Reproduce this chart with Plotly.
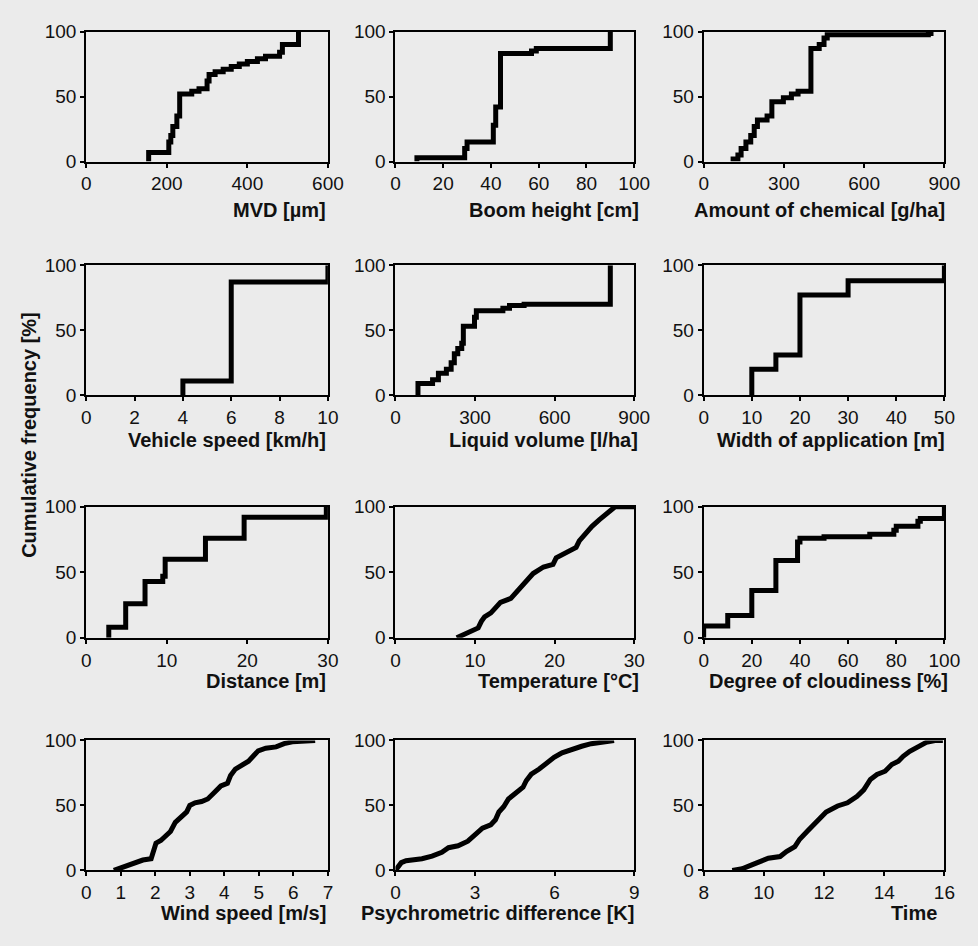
import plotly.graph_objects as go
from plotly.subplots import make_subplots

# ---- data (step positions and cumulative frequency [%]) ----
mvd_x = [155, 155, 205, 210, 215, 225, 232, 262, 280, 300, 305, 320, 340, 360, 380, 400, 425, 445, 480, 487, 527]
mvd_y = [0, 7, 15, 20, 27, 35, 52, 54, 56, 62, 67, 69, 71, 73, 75, 77, 79, 81, 84, 90, 100]

boom_x = [9, 9, 29, 30, 41, 42, 44, 57, 59, 90]
boom_y = [0, 3, 10, 15, 28, 42, 83, 85, 87, 100]

chem_x = [110, 110, 128, 140, 158, 176, 189, 201, 237, 255, 298, 328, 353, 401, 432, 450, 462, 840, 850]
chem_y = [0, 2, 5, 10, 15, 20, 27, 32, 35, 46, 49, 52, 54, 87, 90, 95, 97.5, 98.5, 100]

speed_x = [4, 4, 6, 10]
speed_y = [0, 11, 87, 100]

liquid_x = [80, 85, 140, 162, 192, 210, 222, 235, 250, 256, 298, 305, 405, 430, 485, 810]
liquid_y = [0, 9, 12, 17, 20, 25, 32, 36, 40, 53, 60, 65, 67, 69, 70, 100]

width_x = [10, 10, 15, 20, 30, 50]
width_y = [0, 20, 31, 77, 88, 100]

dist_x = [2.8, 2.8, 4.9, 7.3, 9.5, 9.8, 14.8, 19.6, 29.8]
dist_y = [0, 8, 26, 43, 47, 60, 76, 92, 100]

temp_x = [7.7, 8.7, 9.5, 10.4, 10.8, 11.2, 12, 12.8, 13.2, 14.5, 15.1, 15.7, 16.1, 16.9, 17.3, 18.6,
          19.8, 20.2, 21.5, 22.7, 23.1, 23.9, 24.7, 25.6, 26.4, 27.2, 27.6, 30]
temp_y = [0, 2.5, 5, 7.5, 12.5, 16, 19, 24, 27, 30, 34, 37.5, 41, 46, 49, 54,
          56, 61, 65, 69, 74, 80, 85, 90, 94, 99, 100, 100]

cloud_x = [0, 0, 10, 20, 30, 39, 40, 50, 69, 79, 80, 89, 90, 100]
cloud_y = [0, 9, 17, 36, 59, 73, 76, 77, 79, 82, 85, 89, 91, 100]

wind_x = [0.8, 1.08, 1.27, 1.46, 1.64, 1.88, 1.97, 2.02, 2.16, 2.3, 2.44, 2.58, 2.77, 2.91, 3.0, 3.15,
          3.34, 3.52, 3.71, 3.9, 4.09, 4.18, 4.32, 4.51, 4.7, 4.84, 4.98, 5.2, 5.5, 5.73, 5.97, 6.63]
wind_y = [0, 2.5, 4, 6, 8, 9, 16, 21, 23, 26, 30, 37, 42, 45, 50, 52,
          53, 55, 60, 65, 67, 73, 78, 81, 84, 88, 92, 94, 95, 97.5, 99, 100]

psy_x = [0, 0.1, 0.22, 0.4, 1.0, 1.38, 1.75, 2.0, 2.36, 2.73, 3.04, 3.28, 3.59, 3.77, 3.9, 4.08,
         4.26, 4.5, 4.81, 4.93, 5.12, 5.42, 5.67, 5.98, 6.28, 6.59, 7.02, 7.38, 7.87, 8.24]
psy_y = [0, 3, 6, 7.5, 9, 11, 14, 17.5, 19, 22.5, 27.5, 32.5, 35, 39, 45, 49,
         55, 59, 64, 69, 74, 78, 82, 87, 90.5, 93, 95.5, 97.5, 99, 100]

time_x = [8.95, 9.28, 9.6, 9.93, 10.15, 10.54, 10.75, 11.03, 11.19, 11.46, 11.68, 11.9, 12.07, 12.45,
          12.78, 13.1, 13.32, 13.54, 13.76, 14.03, 14.25, 14.47, 14.63, 14.85, 15.12, 15.4, 15.73, 15.95]
time_y = [0, 1.3, 4.3, 7, 9.4, 10.7, 14.5, 18.3, 24, 30.5, 35.6, 42, 45, 49.6,
          52, 57, 62, 70, 73.8, 76.3, 81.4, 84, 87.8, 91.6, 95.4, 98.5, 100, 100]

titles = ["MVD [µm]", "Boom height [cm]", "Amount of chemical [g/ha]",
          "Vehicle speed [km/h]", "Liquid volume [l/ha]", "Width of application [m]",
          "Distance [m]", "Temperature [°C]", "Degree of cloudiness [%]",
          "Wind speed [m/s]", "Psychrometric difference [K]", "Time"]
xranges = [[0, 600], [0, 100], [0, 900], [0, 10], [0, 900], [0, 50],
           [0, 30], [0, 30], [0, 100], [0, 7], [0, 9], [8, 16]]
xticks = [[0, 200, 400, 600], [0, 20, 40, 60, 80, 100], [0, 300, 600, 900],
          [0, 2, 4, 6, 8, 10], [0, 300, 600, 900], [0, 10, 20, 30, 40, 50],
          [0, 10, 20, 30], [0, 10, 20, 30], [0, 20, 40, 60, 80, 100],
          [0, 1, 2, 3, 4, 5, 6, 7], [0, 3, 6, 9], [8, 10, 12, 14, 16]]
yticks = [0, 50, 100]
ytitle = "Cumulative frequency [%]"

series = [(mvd_x, mvd_y, "hv"), (boom_x, boom_y, "hv"), (chem_x, chem_y, "hv"),
          (speed_x, speed_y, "hv"), (liquid_x, liquid_y, "hv"), (width_x, width_y, "hv"),
          (dist_x, dist_y, "hv"), (temp_x, temp_y, "linear"), (cloud_x, cloud_y, "hv"),
          (wind_x, wind_y, "linear"), (psy_x, psy_y, "linear"), (time_x, time_y, "linear")]

# ---- layout geometry (pixels) ----
W, H = 978, 946
col_px = [(83, 330), (399, 643), (714, 960)]
row_px = [(22, 155), (261, 394), (508, 642), (747, 880)]
title_y_px = [205, 440, 686, 924]
title_right_px = [[330, 650, 963], [330, 649, 963], [330, 650, 966], [330, 645, 955]]

BG = "#ebebeb"
INK = "#111111"
FONT = "Liberation Sans, Arial, sans-serif"

fig = make_subplots(rows=4, cols=3)

for i, (xs, ys, shape) in enumerate(series):
    r, c = i // 3 + 1, i % 3 + 1
    fig.add_trace(go.Scatter(x=xs, y=ys, mode="lines",
                             line=dict(color="black", width=5, shape=shape),
                             showlegend=False, hoverinfo="skip"), row=r, col=c)

for i in range(12):
    r, c = i // 3, i % 3
    k = "" if i == 0 else str(i + 1)
    x0, x1 = col_px[c]
    y0, y1 = row_px[r]
    fig.layout["xaxis" + k].update(
        domain=[x0 / W, x1 / W], range=xranges[i], tickvals=xticks[i],
        showline=True, mirror=True, linecolor="black", linewidth=2,
        ticks="outside", ticklen=4, tickcolor="black", tickwidth=1.5,
        showgrid=False, zeroline=False,
        tickfont=dict(family=FONT, size=19, color=INK))
    fig.layout["yaxis" + k].update(
        domain=[1 - y1 / H, 1 - y0 / H], range=[0, 100], tickvals=yticks,
        showline=True, mirror=True, linecolor="black", linewidth=2,
        ticks="outside", ticklen=4, tickcolor="black", tickwidth=1.5,
        showgrid=False, zeroline=False,
        tickfont=dict(family=FONT, size=19, color=INK))
    fig.add_annotation(text="<b>%s</b>" % titles[i], xref="paper", yref="paper",
                       x=title_right_px[r][c] / W, y=1 - title_y_px[r] / H,
                       xanchor="right", yanchor="middle", showarrow=False,
                       font=dict(family=FONT, size=20, color=INK))

fig.add_annotation(text="<b>%s</b>" % ytitle, xref="paper", yref="paper",
                   x=25 / W, y=1 - 434 / H, xanchor="center", yanchor="middle",
                   textangle=-90, showarrow=False,
                   font=dict(family=FONT, size=20, color=INK))

fig.update_layout(width=W, height=H, margin=dict(l=0, r=0, t=0, b=0),
                  paper_bgcolor=BG, plot_bgcolor=BG)

fig.write_html("out.html", config={"displayModeBar": False},
               post_script="document.body.style.margin='0px';document.body.style.background='%s';" % BG)
